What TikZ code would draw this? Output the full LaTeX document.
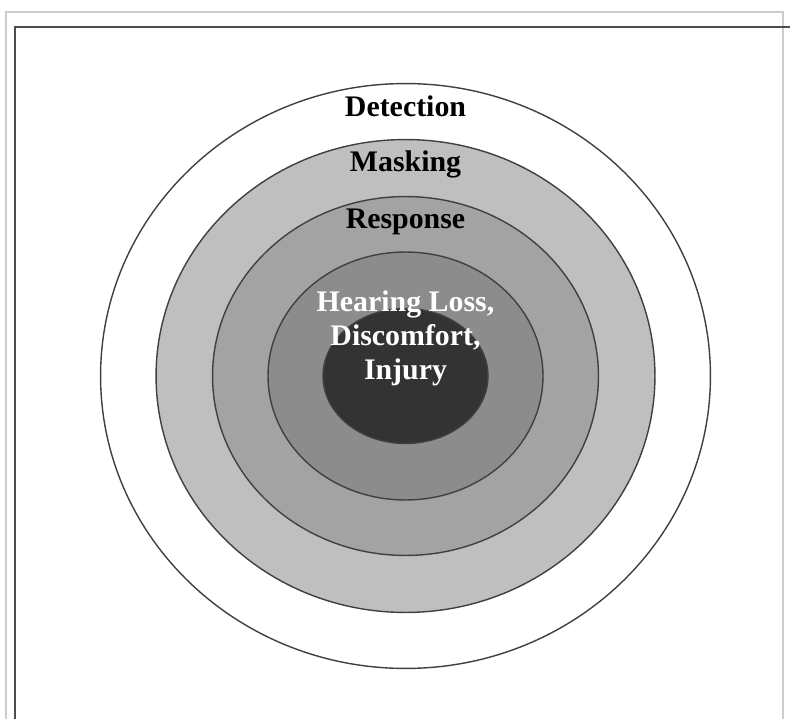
\documentclass[tikz,border=0pt]{standalone}
\usepackage{fontspec}
\setmainfont{Liberation Serif}
\usetikzlibrary{shapes.geometric, positioning}

\begin{document}
\begin{tikzpicture}[
    x=0.02cm,
    y=-0.02cm,
    font=\fontsize{17}{19.2}\selectfont\bfseries,
    ring/.style={
        ellipse,
        draw=black!75,
        line width=0.8pt,
        inner sep=0pt
    },
    ringlabel/.style={
        anchor=base,
        inner sep=0pt,
        align=center
    },
    outerframe/.style={
        draw=black!20,
        line width=0.6pt
    },
    innerframe/.style={
        draw=black!70,
        line width=1.2pt
    }
]

\useasboundingbox (0,0) rectangle (790,719);

% Rammer
\draw[outerframe] (6,730) |- (783,12) -- (783,730);
\draw[innerframe] (15,730) |- (800,27);

% Ringene, udefra og ind
\coordinate (c) at (405.5,376);
\foreach \name/\w/\h/\shade in {
    detection/12.2cm/11.7cm/white,
    masking/9.98cm/9.46cm/black!25,
    response/7.72cm/7.18cm/black!36,
    hearing/5.5cm/4.96cm/black!45,
    core/3.3cm/2.7cm/black!80} {
    \node[ring, fill=\shade, minimum width=\w, minimum height=\h] (\name) at (c) {};
}

% Tekster
\node[ringlabel] (detlabel) at ([yshift=-0.68cm]detection.north) {Detection};
\node[ringlabel] (masklabel) at ([yshift=-0.66cm]masking.north) {Masking};
\node[ringlabel] (resplabel) at ([yshift=-0.65cm]response.north) {Response};
\node[ringlabel, white, font=\fontsize{17}{19.5}\selectfont\bfseries] (corelabel)
    at ([yshift=-2.57cm]hearing.north)
    {Hearing Loss,\\Discomfort,\\Injury};

\end{tikzpicture}
\end{document}
